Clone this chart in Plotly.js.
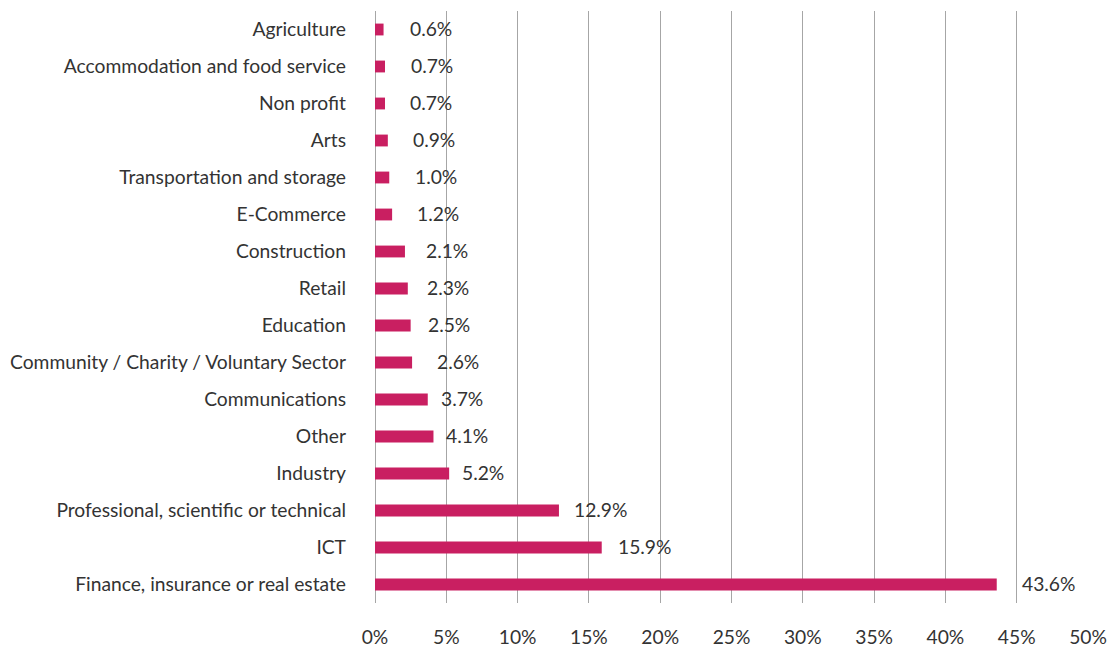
<!DOCTYPE html>
<html><head><meta charset="utf-8">
<script src="https://cdn.plot.ly/plotly-3.0.1.min.js"></script>
<style>html,body{margin:0;padding:0;background:#fff;}#chart{width:1108px;height:648px;}</style>
</head><body><div id="chart"></div>
<script>
const sectors = ["Agriculture","Accommodation and food service","Non profit","Arts","Transportation and storage","E-Commerce","Construction","Retail","Education","Community / Charity / Voluntary Sector","Communications","Other","Industry","Professional, scientific or technical","ICT","Finance, insurance or real estate"];
const shares = [0.6,0.7,0.7,0.9,1.0,1.2,2.1,2.3,2.5,2.6,3.7,4.1,5.2,12.9,15.9,43.6];
const tickVals = [0,5,10,15,20,25,30,35,40,45,50];
const tickText = ["0%","5%","10%","15%","20%","25%","30%","35%","40%","45%","50%"];
// label gap (px) to the right of each bar end, as placed in the original
const labelGap = [26,26,25,25,26,25,21,19,17,25,13,13,13,15,16,25];

const font = {family:"Lato, 'Open Sans', sans-serif", size:19.25, color:"#333333"};
const trace = {type:"bar", orientation:"h", y:sectors, x:shares, width:0.32,
  marker:{color:"#C91F61"}, hoverinfo:"skip"};
const annotations = sectors.map((s,i)=>({x:shares[i], y:s, xref:"x", yref:"y",
  text:shares[i].toFixed(1)+"%", showarrow:false, xanchor:"left", xshift:labelGap[i]-2, yshift:1,
  font:font}));
const layout = {
  width:1108, height:648, margin:{l:375,r:20,t:11,b:45},
  paper_bgcolor:"#fff", plot_bgcolor:"#fff", font:font, showlegend:false,
  xaxis:{range:[0,50], tickvals:tickVals, ticktext:tickText, showgrid:true, gridcolor:"#A6A6A6", gridwidth:1,
    zeroline:true, zerolinecolor:"#A6A6A6", zerolinewidth:1, showline:false, ticks:"outside", ticklen:0,
    ticklabelstandoff:17, fixedrange:true},
  yaxis:{autorange:"reversed", showgrid:false, zeroline:false, showline:false, ticks:"", ticklabelstandoff:28, fixedrange:true},
  annotations:annotations
};
Plotly.newPlot("chart",[trace],layout,{displayModeBar:false,staticPlot:true});
</script></body></html>
